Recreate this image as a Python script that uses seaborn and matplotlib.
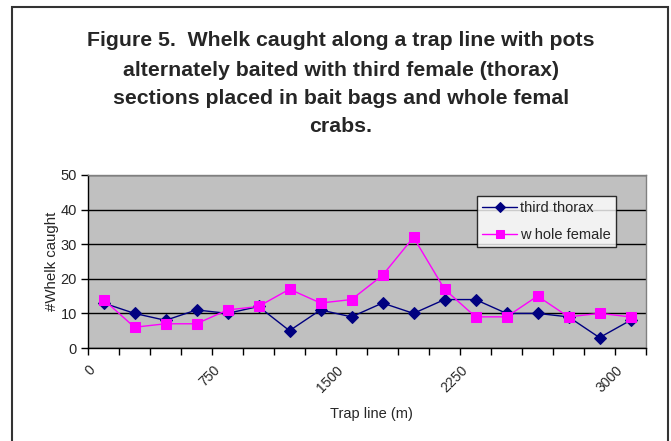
import matplotlib
matplotlib.use("Agg")
import matplotlib.pyplot as plt
import matplotlib.transforms as mtransforms
import seaborn as sns
import pandas as pd
import numpy as np
from matplotlib.patches import Rectangle

# ---- data ----
trap_index = list(range(18))
third_thorax = [13, 10, 8, 11, 10, 12, 5, 11, 9, 13, 10, 14, 14, 10, 10, 9, 3, 8]
whole_female = [14, 6, 7, 7, 11, 12, 17, 13, 14, 21, 32, 17, 9, 9, 15, 9, 10, 9]
tick_idx = [0, 4, 8, 12, 17]
tick_labels = ["0", "750", "1500", "2250", "3000"]
y_ticks = [0, 10, 20, 30, 40, 50]
title_lines = [
    "Figure 5.  Whelk caught along a trap line with pots",
    "alternately baited with third female (thorax)",
    "sections placed in bait bags and whole femal",
    "crabs.",
]

sns.set_theme(style="white")
plt.rcParams["font.family"] = ["Liberation Sans", "DejaVu Sans"]

fig = plt.figure(figsize=(6.71, 4.41), dpi=100)
ax = fig.add_axes([88 / 671, 1 - 348 / 441, (646 - 88) / 671, (348 - 175) / 441])
ax.set_facecolor("#C0C0C0")

df1 = pd.DataFrame({"x": trap_index, "y": third_thorax})
df2 = pd.DataFrame({"x": trap_index, "y": whole_female})
sns.lineplot(data=df1, x="x", y="y", ax=ax, color="#000080", marker="D",
             markersize=6, markeredgecolor="#000080", linewidth=1.0,
             label="third thorax")
sns.lineplot(data=df2, x="x", y="y", ax=ax, color="#FF00FF", marker="s",
             markersize=7, markeredgecolor="#FF00FF", linewidth=1.0,
             label="w hole female")

ax.set_xlim(-0.5, 17.5)
ax.set_ylim(0, 50)
ax.set_yticks(y_ticks)
ax.set_yticklabels([str(v) for v in y_ticks], fontsize=10.5)
ax.yaxis.grid(True, color="black", linewidth=1.0)
ax.set_axisbelow(True)

# x axis: tick marks between categories, rotated labels every 4th category
ax.set_xticks(np.arange(-0.5, 18, 1.0))
ax.set_xticklabels([])
ax.tick_params(axis="x", which="major", length=5, width=1, color="black",
               direction="out", bottom=True)
base = mtransforms.blended_transform_factory(ax.transData, ax.transAxes)
offset = mtransforms.ScaledTranslation(-15 / 100, -15 / 100, fig.dpi_scale_trans)
for xi, lab in zip(tick_idx, tick_labels):
    ax.text(xi, 0, lab, transform=base + offset, rotation=45, ha="right",
            va="top", rotation_mode="anchor", fontsize=10)

ax.tick_params(axis="y", which="major", length=5, width=1, color="black",
               direction="out", left=True, pad=3)

for s in ["top", "right"]:
    ax.spines[s].set_color("#808080")
    ax.spines[s].set_linewidth(1.0)
for s in ["left", "bottom"]:
    ax.spines[s].set_color("black")
    ax.spines[s].set_linewidth(1.0)

ax.set_xlabel("Trap line (m)", fontsize=10.5)
ax.xaxis.set_label_coords((371 - 88) / 558, -(407 - 348) / 173)
ax.set_ylabel("#Whelk caught", fontsize=10.8)
ax.yaxis.set_label_coords((59 - 88) / 558, 0.5)

leg = ax.legend(loc="upper left", bbox_to_anchor=((477 - 88) / 558, 1 - (196 - 175) / 173),
                frameon=True, fancybox=False, fontsize=10.5, handlelength=2.4,
                borderpad=0.35, labelspacing=0.9, handletextpad=0.2, borderaxespad=0)
leg.get_frame().set_edgecolor("black")
leg.get_frame().set_facecolor("white")
leg.get_frame().set_linewidth(1.0)
for h in leg.legend_handles:
    h.set_markersize(5.5)

ys = [40, 70, 99, 127]
for line, yy in zip(title_lines, ys):
    fig.text(341 / 671, 1 - yy / 441, line, ha="center", va="center",
             fontsize=15.3, fontweight="bold")

fig.patches.append(Rectangle((12 / 671, -0.05), (668 - 12) / 671, 1 - 7 / 441 + 0.05,
                             transform=fig.transFigure, fill=False,
                             edgecolor="#333333", linewidth=1.5))

fig.savefig("out.png", dpi=100)
